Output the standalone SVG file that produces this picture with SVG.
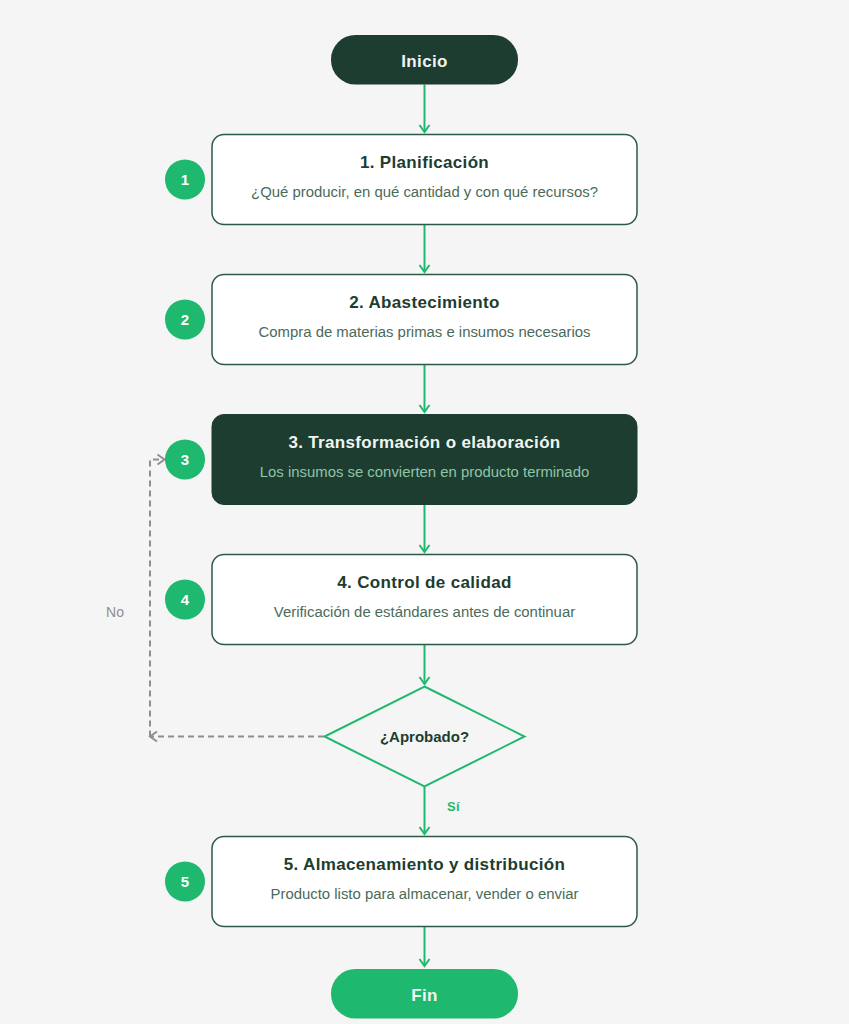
<svg xmlns="http://www.w3.org/2000/svg" width="849" height="1024" viewBox="0 0 849 1024">
<style>
text{font-family:"Liberation Sans",Arial,sans-serif;text-anchor:middle}
.box{fill:#fff;stroke:#2d5a45;stroke-width:1.5}
.dark{fill:#1c3d2f;stroke:#1c3d2f;stroke-width:1}
.t{font-size:17px;font-weight:700;fill:#1c3d2f;letter-spacing:.34px}
.d{font-size:14.900px;fill:#4a6b5a}
.n{font-size:15px;font-weight:700;fill:#fff}
.c{fill:#1eb86e}
.g{fill:none;stroke:#1eb86e;stroke-width:2}
.h{fill:none;stroke:#8f8f8f;stroke-width:2;stroke-dasharray:6 4}
</style>
<defs>
<marker id="ag" markerUnits="userSpaceOnUse" markerWidth="14" markerHeight="14" refX="11" refY="7" orient="auto"><path d="M4 2L11 7L4 12" fill="none" stroke="#1eb86e" stroke-width="2"/></marker>
<marker id="ah" markerUnits="userSpaceOnUse" markerWidth="14" markerHeight="14" refX="11" refY="7" orient="auto"><path d="M4 2L11 7L4 12" fill="none" stroke="#8f8f8f" stroke-width="2"/></marker>
</defs>
<rect width="849" height="1024" fill="#f5f5f5"/>
<g id="connectors">
<path class="g" marker-end="url(#ag)" d="M424.500 84.500V132"/>
<path class="g" marker-end="url(#ag)" d="M424.500 224.500V272"/>
<path class="g" marker-end="url(#ag)" d="M424.500 364.500V412"/>
<path class="g" marker-end="url(#ag)" d="M424.500 504.500V552"/>
<path class="g" marker-end="url(#ag)" d="M424.500 644.500V684"/>
<path class="g" marker-end="url(#ag)" d="M424.500 786.500V834"/>
<path class="g" marker-end="url(#ag)" d="M424.500 926.500V966"/>
<path class="h" marker-end="url(#ah)" d="M324 736.500H150"/>
<path class="h" marker-end="url(#ah)" d="M150 736.500V459.500H164.500"/>
<text x="115" y="617" style="font-size:14px;fill:#8f8f8f">No</text>
<text x="453.500" y="811" style="font-size:13px;font-weight:700;fill:#1eb86e;letter-spacing:.3px">Sí</text>
</g>
<g id="inicio"><rect x="331" y="35" width="187" height="49.500" rx="24.500" fill="#1c3d2f"/><text x="424.500" y="67" style="font-size:17px;font-weight:700;fill:#f0f5f2;letter-spacing:.34px">Inicio</text></g>
<g id="paso1"><circle class="c" cx="185" cy="179.500" r="20"/><text class="n" x="185" y="185">1</text><rect class="box" x="212" y="134.500" width="425" height="90" rx="12"/><text class="t" x="424.500" y="168">1. Planificación</text><text class="d" x="424.500" y="197">¿Qué producir, en qué cantidad y con qué recursos?</text></g>
<g id="paso2"><circle class="c" cx="185" cy="319.500" r="20"/><text class="n" x="185" y="325">2</text><rect class="box" x="212" y="274.500" width="425" height="90" rx="12"/><text class="t" x="424.500" y="308">2. Abastecimiento</text><text class="d" x="424.500" y="337">Compra de materias primas e insumos necesarios</text></g>
<g id="paso3"><circle class="c" cx="185" cy="459.500" r="20"/><text class="n" x="185" y="465">3</text><rect class="dark" x="212" y="414.500" width="425" height="90" rx="12"/><text class="t" x="424.500" y="448" style="fill:#f0f5f2">3. Transformación o elaboración</text><text class="d" x="424.500" y="477" style="fill:#8fc4a8">Los insumos se convierten en producto terminado</text></g>
<g id="paso4"><circle class="c" cx="185" cy="599.500" r="20"/><text class="n" x="185" y="605">4</text><rect class="box" x="212" y="554.500" width="425" height="90" rx="12"/><text class="t" x="424.500" y="588">4. Control de calidad</text><text class="d" x="424.500" y="617">Verificación de estándares antes de continuar</text></g>
<g id="aprobado"><polygon points="424.500,686.500 524.500,736.500 424.500,786.500 324.500,736.500" fill="#f5f5f5" stroke="#1eb86e" stroke-width="2"/><text x="424.500" y="742" style="font-size:15px;font-weight:700;fill:#1c3d2f">¿Aprobado?</text></g>
<g id="paso5"><circle class="c" cx="185" cy="881.500" r="20"/><text class="n" x="185" y="887">5</text><rect class="box" x="212" y="836.500" width="425" height="90" rx="12"/><text class="t" x="424.500" y="870">5. Almacenamiento y distribución</text><text class="d" x="424.500" y="899">Producto listo para almacenar, vender o enviar</text></g>
<g id="fin"><rect x="331" y="969" width="187" height="49.500" rx="24.500" fill="#1eb86e"/><text x="424.500" y="1001" style="font-size:17px;font-weight:700;fill:#f0f5f2;letter-spacing:.34px">Fin</text></g>
</svg>
